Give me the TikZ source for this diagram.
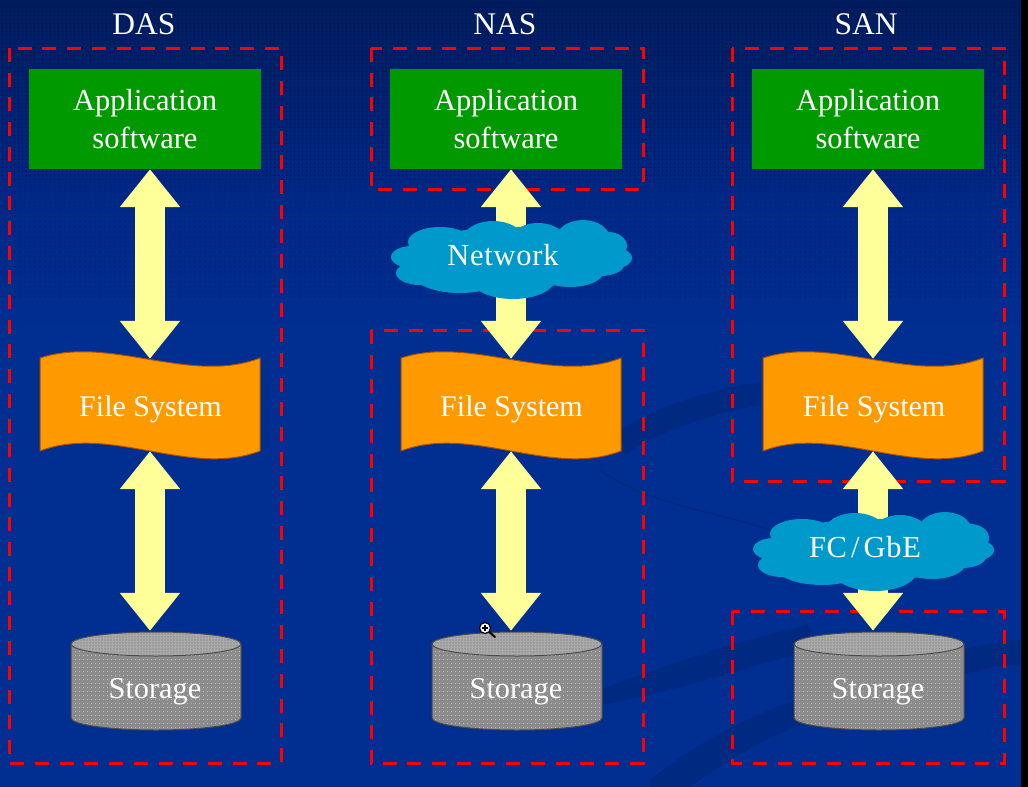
\documentclass[tikz,border=0pt]{standalone}
\usepackage{fontspec}
\setmainfont{Liberation Serif}
\usetikzlibrary{arrows.meta,patterns.meta,calc}
\definecolor{bgtop}{RGB}{0,28,92}
\definecolor{bgmid}{RGB}{0,40,135}
\definecolor{bgbot}{RGB}{0,46,145}
\definecolor{swoosh}{RGB}{0,41,130}
\definecolor{dotdark}{RGB}{0,20,80}
\definecolor{appgreen}{RGB}{0,153,0}
\definecolor{fsorange}{RGB}{255,153,0}
\definecolor{fsedge}{RGB}{170,80,0}
\definecolor{arrowyellow}{RGB}{255,255,153}
\definecolor{cloudblue}{RGB}{0,153,204}
\definecolor{cylgray}{RGB}{140,140,140}
\definecolor{cyltop}{RGB}{170,170,170}
\tikzset{
  txt/.style={text=white,align=center,inner sep=0pt},
  title/.style={txt,anchor=base,font=\fontsize{31.5}{38}\selectfont},
  appbox/.style={txt,font=\fontsize{30.5}{38}\selectfont,fill=appgreen,minimum width=232pt,minimum height=100pt},
  fsnode/.style={minimum width=220pt,minimum height=92pt,inner sep=0pt},
  fstext/.style={txt,anchor=base,font=\fontsize{30}{38}\selectfont},
  storenode/.style={minimum width=170pt,minimum height=99pt,inner sep=0pt},
  storetext/.style={txt,anchor=base,font=\fontsize{30.3}{38}\selectfont},
  cloudtext/.style={txt,anchor=base,font=\fontsize{30.5}{38}\selectfont\addfontfeatures{LetterSpace=2.5}},
  zone/.style={draw=red,line width=3pt,dash pattern=on 14pt off 10.7pt},
  biarrow/.style={draw=arrowyellow,line width=30pt,
    {Triangle[length=38pt,width=58pt,color=arrowyellow]}-{Triangle[length=38pt,width=58pt,color=arrowyellow]}},
  wave/.pic={
    \path[fill=fsorange,draw=fsedge,line width=1pt]
      (-110,-47) .. controls (-40,-70) and (40,-20) .. (110,-47)
      -- (110,46) .. controls (40,73) and (-40,19) .. (-110,46) -- cycle;
  },
  puff/.pic={
    \fill[cloudblue]
      (-71,-17) ellipse [x radius=32,y radius=15]
      (-18,-20) ellipse [x radius=30,y radius=18]
      (27,-18) ellipse [x radius=28,y radius=18]
      (72,-20) ellipse [x radius=27,y radius=19]
      (97,-13) ellipse [x radius=19,y radius=14]
      (101,-1) ellipse [x radius=20,y radius=11]
      (89,6) ellipse [x radius=24,y radius=11]
      (59,12) ellipse [x radius=34,y radius=16]
      (2,20) ellipse [x radius=42,y radius=20]
      (-51,15) ellipse [x radius=47,y radius=19]
      (-91,14) ellipse [x radius=24,y radius=12]
      (-99,-2) ellipse [x radius=21,y radius=11]
      (-3,-1) ellipse [x radius=100,y radius=31];
  },
  drum/.pic={
    \path[fill=cylgray,draw=black!70,line width=1pt]
      (-85,-45) -- (-85,29) arc[start angle=180,end angle=360,x radius=85,y radius=-12]
      -- (85,-45) -- cycle;
    \path[pattern={Dots[radius=.55pt,distance=4pt]},pattern color=white!75!gray]
      (-84,-45) -- (-84,29) arc[start angle=180,end angle=360,x radius=84,y radius=-11]
      -- (84,-45) -- cycle;
    \path[fill=cyltop,draw=black!70,line width=1pt]
      (0,-45) ellipse [x radius=85,y radius=12];
    \path[pattern={Dots[radius=.8pt,distance=3pt]},pattern color=black!45]
      (0,-45) ellipse [x radius=84,y radius=11];
  }
}
\begin{document}
\begin{tikzpicture}[x=1pt,y=-1pt]
\useasboundingbox (0,0) rectangle (1028,787);
\fill[black] (0,0) rectangle (1028,787);
% background
\fill[bgbot] (0,320) rectangle (1021,787);
\shade[top color=bgtop,bottom color=bgmid] (0,0) rectangle (1021,200.5);
\shade[top color=bgmid,bottom color=bgbot] (0,200) rectangle (1021,330);
\path[pattern={Dots[radius=.8pt,distance=4pt]},pattern color=dotdark] (0,0) rectangle (1021,180);
\path[pattern={Dots[radius=.5pt,distance=5pt]},pattern color=dotdark] (0,180) rectangle (1021,300);
% swooshes
\fill[swoosh] (620,430) .. controls (660,405) and (710,390) .. (760,382)
  -- (760,405) .. controls (710,415) and (660,430) .. (625,455) -- cycle;
\draw[swoosh,line width=1.5pt] (600,470) .. controls (650,505) and (710,510) .. (770,530);
\fill[swoosh] (600,690) .. controls (680,660) and (740,640) .. (810,625) -- (810,650) .. controls (740,670) and (680,690) .. (600,705) -- cycle;
\fill[swoosh] (650,780) .. controls (700,740) and (760,710) .. (800,700) -- (800,725) .. controls (760,740) and (720,765) .. (690,787) -- (650,787) -- cycle;
\fill[swoosh] (960,650) .. controls (985,645) and (1005,640) .. (1021,640) -- (1021,665) .. controls (1000,665) and (980,670) .. (960,675) -- cycle;
% zones
\draw[zone] (9,48) rectangle (281,763);
\draw[zone] (371,48) rectangle (643,189);
\draw[zone] (371,330) rectangle (643,763);
\draw[zone] (732,48) rectangle (1004,481);
\draw[zone] (732,611) rectangle (1004,763);
% titles
\node[title] (tdas) at (144,34) {DAS};
\node[title] (tnas) at (505,34) {NAS};
\node[title] (tsan) at (866,34) {SAN};
% shapes
\foreach \cx in {150,511,873} \pic at (\cx,405) {wave};
\foreach \cx in {156,517,879} \pic at (\cx,689) {drum};
% nodes
\node[appbox] (appd) at (145,119) {Application\\software};
\node[appbox] (appn) at (506,119) {Application\\software};
\node[appbox] (apps) at (868,119) {Application\\software};
\node[fsnode] (fsd) at (150,405) {};
\node[fsnode] (fsn) at (511,405) {};
\node[fsnode] (fss) at (873,405) {};
\node[fstext] (lfd) at (150.5,416) {File System};
\node[fstext] (lfn) at (511.5,416) {File System};
\node[fstext] (lfs) at (874,416) {File System};
\node[storenode] (std) at (150,680.5) {};
\node[storenode] (stn) at (511,680.5) {};
\node[storenode] (sts) at (873,680.5) {};
\node[storetext] (ltd) at (155,698) {Storage};
\node[storetext] (ltn) at (516,698) {Storage};
\node[storetext] (lts) at (878,698) {Storage};
% connectors
\draw[biarrow] (fsd.north |- appd.south) -- (fsd.north);
\draw[biarrow] (fsd.south) -- (std.north);
\draw[biarrow] (fsn.north |- appn.south) -- (fsn.north);
\draw[biarrow] (fsn.south) -- (stn.north);
\draw[biarrow] (fss.north |- apps.south) -- (fss.north);
\draw[biarrow] (fss.south) -- (sts.north);
% clouds
\pic at (511,259) {puff};
\pic at (873,551) {puff};
\node[cloudtext] (net) at (503,265) {Network};
\node[cloudtext] (fc) at (865,557) {FC\kern4pt/\kern4pt GbE};
% magnifier pointer
\draw[black,line width=2pt,line cap=round] (488,631) -- (495,637);
\fill[white,draw=black,line width=1.2pt] (485,628) circle (5.5pt);
\draw[black,line width=1.4pt] (482,628) -- (488,628) (485,625) -- (485,631);
\end{tikzpicture}
\end{document}
